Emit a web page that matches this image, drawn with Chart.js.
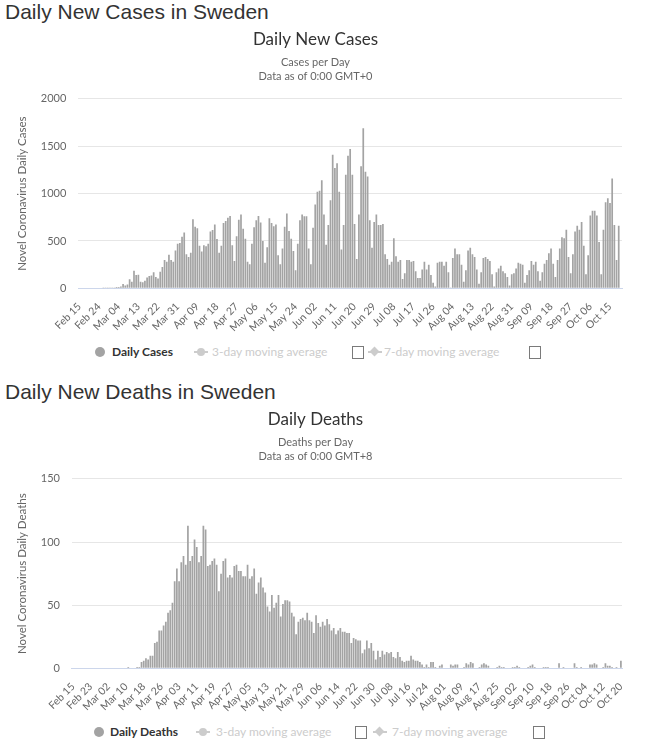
<!DOCTYPE html>
<html>
<head>
<meta charset="utf-8">
<script src="https://cdn.jsdelivr.net/npm/chart.js@4.4.0/dist/chart.umd.min.js"></script>
<style>
body { margin: 0; background: #fff; width: 646px; height: 750px; position: relative; overflow: hidden; font-family: Lato, sans-serif; }
h2 { position: absolute; left: 5px; margin: 0; font: 21px/24px "Liberation Sans", Arial, sans-serif; color: #333; font-weight: normal; }
.wrap { position: absolute; left: 0; width: 646px; height: 316px; }
.legend { position: absolute; left: 0; width: 646px; height: 20px; font-size: 12px; }
.legend span { position: absolute; top: 0; line-height: 20px; white-space: nowrap; }
.legend .dot { top: 5px; width: 10px; height: 10px; border-radius: 50%; background: #a3a3a3; }
.legend .on { color: #333; font-weight: bold; }
.legend .off { color: #ccc; }
.legend .ln { top: 9px; height: 2px; width: 14px; background: #ccc; }
.legend .mk { top: 6px; width: 8px; height: 8px; border-radius: 50%; background: #ccc; }
.legend .dm { top: 6px; width: 7px; height: 7px; background: #ccc; transform: rotate(45deg); }
.legend .box { top: 4px; width: 10px; height: 11px; border: 1px solid #7a7a7a; background: #fff; }
</style>
</head>
<body>

<h2 style="top:0px">Daily New Cases in Sweden</h2>
<div class="wrap" style="top:24px"><canvas id="casesChart"></canvas></div>
<div class="legend" style="top:342px">
	<span class="dot" style="left:95px"></span>
	<span class="on" style="left:112px">Daily Cases</span>
	<span class="ln" style="left:194px"></span><span class="mk" style="left:197px"></span>
	<span class="off" style="left:212px">3-day moving average</span>
	<span class="box" style="left:352px"></span>
	<span class="ln" style="left:368px"></span><span class="dm" style="left:371px"></span>
	<span class="off" style="left:384px">7-day moving average</span>
	<span class="box" style="left:529px"></span>
</div>

<h2 style="top:380px">Daily New Deaths in Sweden</h2>
<div class="wrap" style="top:404px"><canvas id="deathsChart"></canvas></div>
<div class="legend" style="top:722px">
	<span class="dot" style="left:94px"></span>
	<span class="on" style="left:110px">Daily Deaths</span>
	<span class="ln" style="left:196px"></span><span class="mk" style="left:199px"></span>
	<span class="off" style="left:216px">3-day moving average</span>
	<span class="box" style="left:355px"></span>
	<span class="ln" style="left:373px"></span><span class="dm" style="left:376px"></span>
	<span class="off" style="left:392px">7-day moving average</span>
	<span class="box" style="left:533px"></span>
</div>

<script>
"use strict"

// DATA -----------------------
// one category per day, Feb 15 to Oct 20
const firstDay = new Date(2020, 1, 15)
const dayCount = 249
const months = ["Jan", "Feb", "Mar", "Apr", "May", "Jun", "Jul", "Aug", "Sep", "Oct", "Nov", "Dec"]

const days = []
for (let i = 0; i < dayCount; i++) {
	let d = new Date(firstDay.getFullYear(), firstDay.getMonth(), firstDay.getDate() + i)
	days.push(months[d.getMonth()] + " " + String(d.getDate()).padStart(2, "0"))
}

const dailyCases = [
	0, 0, 0, 0, 0, 0, 0, 0, 0, 0, 0, 1, 5, 1, 5, 3, 1, 14,
	15, 20, 45, 30, 40, 95, 70, 185, 140, 145,
	70, 65, 80, 115, 130, 135, 170, 120, 105, 175,
	225, 300, 280, 355, 300, 280, 400, 470, 480, 545,
	590, 360, 330, 375, 730, 650, 635, 450, 390, 455,
	445, 470, 600, 615, 675, 520, 375, 450, 690, 710,
	745, 765, 455, 290, 550, 725, 780, 630, 525, 280,
	255, 470, 645, 720, 765, 695, 500, 270, 435, 740,
	690, 655, 675, 350, 255, 420, 650, 790, 605, 525,
	395, 190, 470, 720, 780, 760, 760, 420, 255, 640,
	885, 1020, 1030,
	1140, 780, 460, 670, 930, 1410, 1270, 1320, 1020, 410,
	670, 1200, 1400, 1470, 1200, 680, 310, 780, 1290, 1690,
	1230, 1180, 720, 430, 700, 780, 670, 670, 680, 360,
	310, 250, 280, 530, 340, 280, 300, 100, 160, 300,
	300, 280, 290, 180, 110, 110, 200, 280, 200, 250,
	140, 60, 20, 270, 280, 280, 240, 280, 170, 10,
	320, 420, 360, 360, 250, 70, 190, 400, 430, 360,
	330, 200, 50, 170, 320, 330, 310, 290, 150, 20,
	170, 210, 240, 180, 160, 120, 30, 150, 160, 210,
	270, 260, 250, 60, 140, 190, 290, 250, 280, 180,
	80, 170, 260, 300, 370, 420, 260, 120, 300, 420,
	540, 530, 620, 330, 160, 360, 600, 660, 620, 700,
	450, 150, 350, 770, 820, 820, 770, 490, 150, 620,
	910, 950, 900, 1160, 670, 300, 660, null,
]

const dailyDeaths = [
	0, 0, 0, 0, 0, 0, 0, 0, 0, 0, 0, 0, 0, 0, 0, 0, 0, 0, 0, 0, 0, 0, 0, 0, 0,
	1, 0, 0, 0, 1, 1,
	5, 6, 8, 7, 10, 10, 20, 21, 30, 30,
	34, 37, 44, 46, 52, 69, 79, 69, 84, 89,
	82, 113, 85, 89, 102, 96, 84, 89, 113, 110,
	81, 82, 85, 87, 82, 61, 75, 85, 87, 72,
	74, 72, 81, 82, 77, 77, 73, 73, 82, 71,
	73, 79, 59, 68, 72, 64, 60, 49, 45, 58,
	48, 52, 58, 41, 51, 54, 54, 53, 44, 41,
	27, 37, 39, 40, 38, 44, 38, 37, 28, 42,
	36,
	33, 37, 34, 39, 35, 30, 32, 27, 30, 32,
	29, 29, 28, 28, 20, 24, 23, 22, 22, 12,
	15, 22, 16, 20, 14, 7, 14, 9, 14, 11,
	13, 12, 13, 9, 8, 13, 9, 6, 5, 6,
	6, 10, 7, 6, 6, 5, 3, 1, 3, 1,
	5, 5, 1, 0,
	2, 3, 0, 0, 0, 3, 2, 3, 3, 0,
	0, 1, 4, 3, 5, 4, 0, 0, 1, 3,
	4, 3, 2, 0, 0, 0, 1, 2, 1, 1,
	0, 0, 0, 1, 1, 2, 1, 0, 0, 0,
	1, 2, 3, 1, 0, 0, 0, 1, 1, 1,
	0, 0, 0, 0, 4, 0, 1, 0, 0, 0,
	0, 4, 1, 0, 1, 0, 0, 0, 3, 3,
	4, 3, 0, 0, 1, 4, 2, 2, 1, 0,
	1, 0, 6,
]

const casesTicks = [0, 500, 1000, 1500, 2000]
const deathsTicks = [0, 50, 100, 150]

// CHARTS -----------------------
function makeChart(id, name, values, labelStep, yTicks, title, subtitle, yTitle) {
	let ctx = document.getElementById(id).getContext("2d")
	return new Chart(ctx, {
		type: "bar",
		data: {
			labels: days,
			datasets: [
				{
					label: name,
					data: values,
					backgroundColor: "#a3a3a3",
					borderWidth: 0,
					barPercentage: 0.78,
					categoryPercentage: 1,
				},
			],
		},
		options: {
			responsive: true,
			maintainAspectRatio: false,
			animation: false,
			layout: { padding: { left: 9, right: 24, top: 0, bottom: 2 } },
			plugins: {
				legend: { display: false },
				tooltip: { enabled: false },
				title: {
					display: true,
					text: title,
					color: "#333",
					font: { family: "Lato", size: 17, weight: "normal" },
					padding: { top: 5, bottom: 0 },
				},
				subtitle: {
					display: true,
					text: subtitle,
					color: "#666",
					font: { family: "Lato", size: 11, lineHeight: 1.25 },
					padding: { top: 6, bottom: 16 },
				},
			},
			scales: {
				x: {
					grid: { display: false },
					border: { color: "#ccd6eb" },
					ticks: {
						autoSkip: false,
						minRotation: 45,
						maxRotation: 45,
						padding: 4,
						color: "#666",
						font: { family: "Lato", size: 10.5 },
						callback: function (v, i) {
							return i % labelStep === 0 ? days[i] : null
						},
					},
				},
				y: {
					min: yTicks[0],
					max: yTicks[yTicks.length - 1],
					afterBuildTicks: function (axis) {
						axis.ticks = yTicks.map((v) => ({ value: v }))
					},
					grid: { color: "#e6e6e6", drawTicks: false },
					border: { display: false },
					ticks: {
						padding: 12,
						color: "#666",
						font: { family: "Lato", size: 11 },
						callback: function (v) {
							return String(v)
						},
					},
					title: {
						display: true,
						text: yTitle,
						color: "#666",
						font: { family: "Lato", size: 11.5 },
						padding: { top: 6, bottom: 0 },
					},
				},
			},
		},
	})
}

makeChart("casesChart", "Daily Cases", dailyCases, 9, casesTicks,
	"Daily New Cases", ["Cases per Day", "Data as of 0:00 GMT+0"], "Novel Coronavirus Daily Cases")

makeChart("deathsChart", "Daily Deaths", dailyDeaths, 8, deathsTicks,
	"Daily Deaths", ["Deaths per Day", "Data as of 0:00 GMT+8"], "Novel Coronavirus Daily Deaths")
</script>
</body>
</html>
